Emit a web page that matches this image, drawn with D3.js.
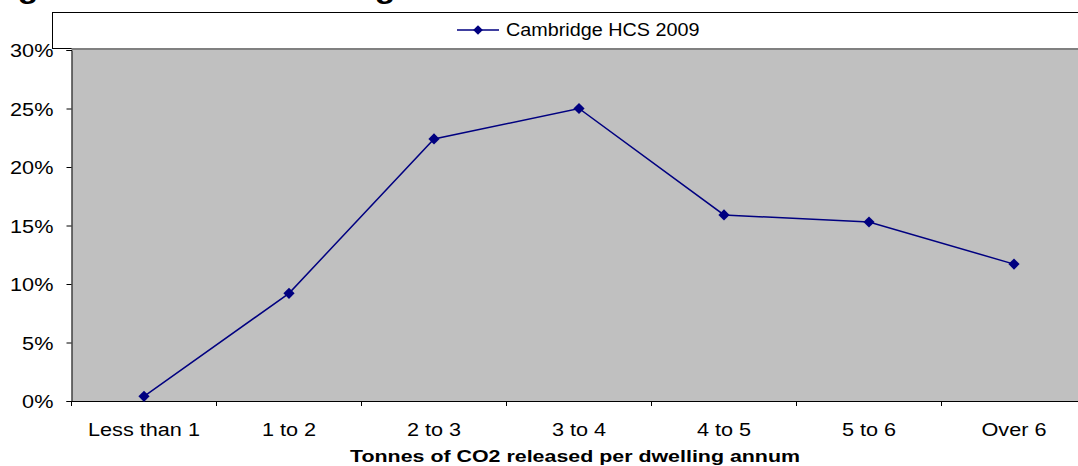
<!DOCTYPE html>
<html>
<head>
<meta charset="utf-8">
<script src="https://cdn.jsdelivr.net/npm/d3@7"></script>
<style>
  html, body { margin: 0; padding: 0; background: #ffffff; }
  svg { display: block; font-family: "Liberation Sans", Arial, sans-serif; }
</style>
</head>
<body>
<svg id="chart" width="1078" height="466"></svg>
<script>
// Share of dwellings by annual CO2 output band
const categories = ["Less than 1", "1 to 2", "2 to 3", "3 to 4", "4 to 5", "5 to 6", "Over 6"];
const seriesName = "Cambridge HCS 2009";
const seriesValues = [0.4, 9.2, 22.4, 25.0, 15.9, 15.3, 11.7];
const yTicks = [0, 5, 10, 15, 20, 25, 30];
const titleText = "Figure 7: Annual dwelling CO2 emissions";
const xTitle = "Tonnes of CO2 released per dwelling annum";

const svg = d3.select("#chart");
const plot = { left: 71.5, top: 50, right: 1086.5, bottom: 401 };
const lineColor = "#000080";

const x = d3.scaleBand().domain(categories).range([plot.left, plot.right]).padding(0);
const y = d3.scaleLinear().domain([0, 30]).range([plot.bottom, plot.top]);

// Title (sits mostly above the top edge of the page)
svg.append("text")
  .attr("transform", "translate(-12,-2) scale(1.2,1)")
  .attr("font-size", 28).attr("font-weight", "bold")
  .attr("fill", "#000")
  .text(titleText);

// Legend box
const legend = svg.append("g");
legend.append("rect")
  .attr("x", 52.5).attr("y", 12.5)
  .attr("width", 1100).attr("height", 36)
  .attr("fill", "#fff").attr("stroke", "#000").attr("stroke-width", 1);
legend.append("line")
  .attr("x1", 457).attr("x2", 499).attr("y1", 30).attr("y2", 30)
  .attr("stroke", lineColor).attr("stroke-width", 1.5);
legend.append("path")
  .attr("d", d3.symbol(d3.symbolDiamond2, 60)())
  .attr("transform", "translate(478,30)")
  .attr("fill", lineColor);
legend.append("text")
  .attr("transform", "translate(506,36) scale(1.07,1)")
  .attr("font-size", 18.5).attr("fill", "#000")
  .text(seriesName);

// Plot area
svg.append("rect")
  .attr("x", plot.left).attr("y", plot.top)
  .attr("width", plot.right - plot.left).attr("height", plot.bottom - plot.top)
  .attr("fill", "#c0c0c0");
svg.append("line")
  .attr("x1", plot.left).attr("x2", plot.right)
  .attr("y1", plot.top - 1).attr("y2", plot.top - 1)
  .attr("stroke", "#808080").attr("stroke-width", 2);

// Y axis
const yAxis = svg.append("g")
  .attr("transform", `translate(${plot.left},0)`)
  .call(d3.axisLeft(y).tickValues(yTicks).tickSize(5).tickPadding(10).tickFormat(d => d + "%"));
yAxis.select(".domain").attr("stroke", "#000");
yAxis.selectAll(".tick line").attr("stroke", "#000");
yAxis.selectAll(".tick text")
  .attr("font-family", "Liberation Sans, Arial, sans-serif")
  .attr("font-size", 19).attr("fill", "#000")
  .attr("dy", "0.36em")
  .attr("transform", "translate(-1,0) scale(1.14,1)");

// X axis: labels at band centres, ticks on band edges
const xAxis = svg.append("g")
  .attr("transform", `translate(0,${plot.bottom})`)
  .call(d3.axisBottom(x).tickSize(0).tickPadding(22).tickSizeOuter(0));
xAxis.select(".domain").attr("stroke", "#000");
xAxis.selectAll(".tick text")
  .attr("font-family", "Liberation Sans, Arial, sans-serif")
  .attr("font-size", 19).attr("fill", "#000")
  .attr("transform", "scale(1.14,1)");
xAxis.selectAll("line.edge")
  .data(categories)
  .join("line")
  .attr("class", "edge")
  .attr("x1", d => x(d)).attr("x2", d => x(d))
  .attr("y1", 0).attr("y2", 5)
  .attr("stroke", "#000");

// X axis title
svg.append("text")
  .attr("x", 575).attr("y", 462)
  .attr("text-anchor", "middle")
  .attr("font-size", 16.5).attr("font-weight", "bold")
  .attr("textLength", 450).attr("lengthAdjust", "spacingAndGlyphs")
  .attr("fill", "#000")
  .text(xTitle);

// Series line and markers
const pts = categories.map((c, i) => [x(c) + x.bandwidth() / 2, y(seriesValues[i])]);
svg.append("path")
  .attr("d", d3.line()(pts))
  .attr("fill", "none")
  .attr("stroke", lineColor).attr("stroke-width", 1.5);
svg.selectAll("path.marker")
  .data(pts)
  .join("path")
  .attr("class", "marker")
  .attr("d", d3.symbol(d3.symbolDiamond2, 80)())
  .attr("transform", d => `translate(${d[0]},${d[1]})`)
  .attr("fill", lineColor);
</script>
</body>
</html>
